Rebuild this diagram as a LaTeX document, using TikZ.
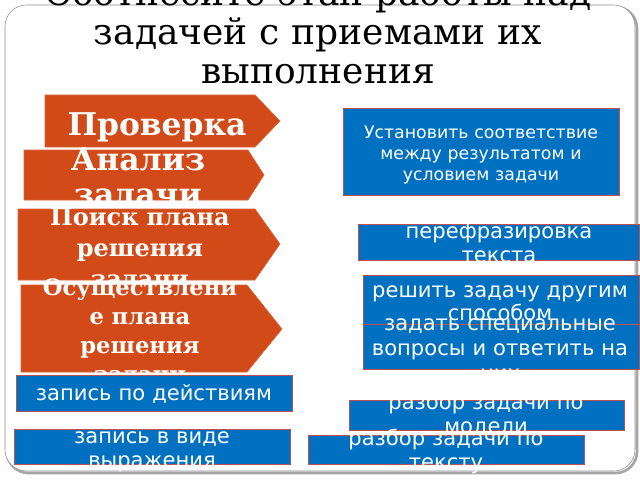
\documentclass[tikz,border=0pt]{standalone}
\usepackage{fontspec}
\setmainfont{DejaVu Serif}
\newfontfamily\methodfont{DejaVu Sans}
\usetikzlibrary{positioning}

\definecolor{stagefill}{RGB}{209,74,24}
\definecolor{methodfill}{RGB}{0,112,192}
\definecolor{methodline}{RGB}{192,80,77}
\definecolor{frameline}{RGB}{140,140,140}

\tikzset{
	stagebox/.style={fill=stagefill, draw=stagefill!85!white, thin},
	stagetext/.style={text=white, font=\bfseries, align=center, anchor=base, text width=190pt, inner sep=0pt},
	methodbox/.style={fill=methodfill, draw=methodline, thin},
	methodtext/.style={text=white, align=center, anchor=base, text width=230pt, inner sep=0pt},
}

\begin{document}
\begin{tikzpicture}[x=0.75pt, y=-0.75pt]

	\useasboundingbox (0,0) rectangle (640,480);

	% frame with shadow
	\draw[gray!70, line width=2pt, rounded corners=16pt] (7,7) rectangle (637,473);
	\filldraw[fill=white, draw=frameline, thin, rounded corners=16pt] (5,5) rectangle (635,471);

	% title
	\node[anchor=base, align=center, text width=470pt, inner sep=0pt, font=\fontsize{27}{29.25}\selectfont] (title) at (318,5)
		{Соотнесите этап работы над\\задачей с приемами их\\выполнения};

	% stages
	\filldraw[stagebox] (45,95) -- (255,95) -- (280,121) -- (255,147) -- (45,147) -- cycle;
	\node[stagetext, font=\bfseries\fontsize{23.5}{26}\selectfont] (check) at (157,135) {Проверка};

	\filldraw[stagebox] (24,150) -- (248,150) -- (264,175) -- (248,200) -- (24,200) -- cycle;
	\node[stagetext, font=\bfseries\fontsize{23.5}{26.25}\selectfont] (analysis) at (138,170) {Анализ\\задачи};

	\filldraw[stagebox] (18,209) -- (255,209) -- (280,244) -- (255,280) -- (18,280) -- cycle;
	\node[stagetext, font=\bfseries\fontsize{18}{23.25}\selectfont] (search) at (140,225) {Поиск плана\\решения\\задачи};

	\filldraw[stagebox] (21,285) -- (247,285) -- (282,329) -- (247,372) -- (21,372) -- cycle;
	\node[stagetext, font=\bfseries\fontsize{17}{21.75}\selectfont] (execution) at (140,295) {Осуществлени\\е плана\\решения\\задачи};

	% methods
	\filldraw[methodbox] (343,108) rectangle (619,195);
	\node[methodtext, font=\methodfont\fontsize{13}{16}\selectfont] (match) at (481,138)
		{Установить соответствие\\между результатом и\\условием задачи};

	\filldraw[methodbox] (358,224) rectangle (639,260);
	\node[methodtext, font=\methodfont\fontsize{15.8}{18}\selectfont] (rephrase) at (499,238) {перефразировка\\текста};

	\filldraw[methodbox] (363,275) rectangle (639,324);
	\node[methodtext, font=\methodfont\fontsize{15.8}{17.5}\selectfont] (otherway) at (500,297) {решить задачу другим\\способом};

	\filldraw[methodbox] (363,324) rectangle (639,369);
	\node[methodtext, font=\methodfont\fontsize{15.8}{19}\selectfont] (questions) at (500,330) {задать специальные\\вопросы и ответить на\\них};

	\filldraw[methodbox] (16,375) rectangle (292,411);
	\node[methodtext, font=\methodfont\fontsize{15.8}{18}\selectfont] (byactions) at (154,400) {запись по действиям};

	\filldraw[methodbox] (349,400) rectangle (624,430);
	\node[methodtext, font=\methodfont\fontsize{15.8}{18}\selectfont] (bymodel) at (486,409) {разбор задачи по\\модели};

	\filldraw[methodbox] (14,429) rectangle (290,464);
	\node[methodtext, font=\methodfont\fontsize{15.8}{18}\selectfont] (asexpression) at (152,443) {запись в виде\\выражения};

	\filldraw[methodbox] (308,435) rectangle (584,464);
	\node[methodtext, font=\methodfont\fontsize{15.8}{18}\selectfont] (bytext) at (446,445) {разбор задачи по\\тексту};

\end{tikzpicture}
\end{document}
